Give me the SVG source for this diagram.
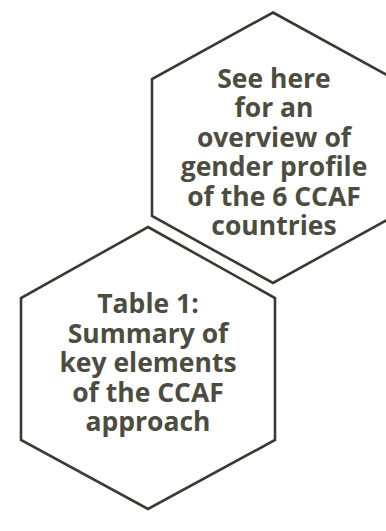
<svg xmlns="http://www.w3.org/2000/svg" width="386" height="531" viewBox="0 0 386 531">
<style>
.hex{fill:none;stroke:#3b3a30;stroke-width:2.6;stroke-linejoin:miter}
.t{font-family:"Open Sans","Liberation Sans",sans-serif;font-weight:700;font-size:26.5px;fill:#4d4c40;text-anchor:middle}
</style>
<rect width="386" height="531" fill="#ffffff"/>
<g id="hex-gender">
<polygon class="hex" points="273,12.5 394,79 394,216 273,283 152,216 152,79"/>
<text class="t" x="274" y="88">See here</text>
<text class="t" x="274" y="117.4">for an</text>
<text class="t" x="274" y="146.8">overview of</text>
<text class="t" x="274" y="176.2">gender profile</text>
<text class="t" x="274" y="205.6">of the 6 CCAF</text>
<text class="t" x="274" y="235">countries</text>
</g>
<g id="hex-table">
<polygon class="hex" points="148,227 275,298 275,440 148,509 21,440 21,298"/>
<text class="t" x="148" y="313.3">Table 1:</text>
<text class="t" x="148" y="342.7">Summary of</text>
<text class="t" x="148" y="372.1">key elements</text>
<text class="t" x="148" y="401.5">of the CCAF</text>
<text class="t" x="148" y="430.9">approach</text>
</g>
<g id="connectors"/>
</svg>
